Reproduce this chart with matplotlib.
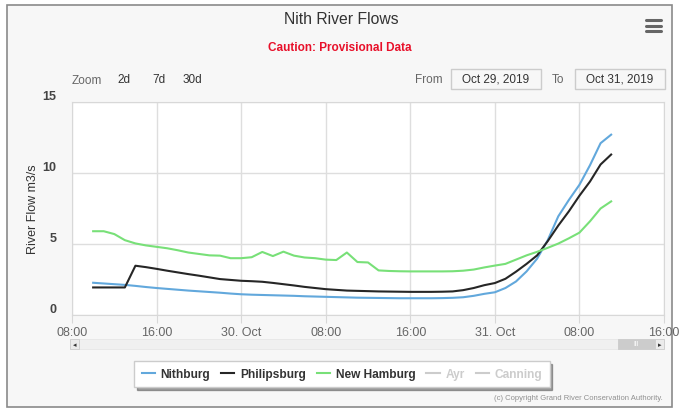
import pandas as pd
import matplotlib.pyplot as plt
from matplotlib.lines import Line2D
from matplotlib.patches import Rectangle

plt.rcParams['font.family'] = ['Liberation Sans Narrow', 'Liberation Sans', 'DejaVu Sans']

# hourly readings, Oct 29 10:00 -> Oct 31 11:00
times = pd.date_range("2019-10-29 10:00", periods=50, freq="h")

nithburg = [2.27, 2.22, 2.17, 2.12, 2.05, 1.97, 1.90, 1.84, 1.78, 1.72,
            1.67, 1.62, 1.57, 1.51, 1.46, 1.43, 1.41, 1.39, 1.37, 1.35,
            1.32, 1.30, 1.28, 1.26, 1.24, 1.22, 1.21, 1.20, 1.19, 1.18,
            1.18, 1.18, 1.18, 1.19, 1.21, 1.25, 1.35, 1.49, 1.60, 1.90,
            2.36, 3.07, 3.97, 5.27, 6.95, 8.10, 9.17, 10.55, 12.10, 12.70]

philipsburg = [1.94, 1.94, 1.94, 1.94, 3.47, 3.37, 3.25, 3.12, 3.00, 2.88,
               2.77, 2.65, 2.53, 2.47, 2.41, 2.38, 2.34, 2.26, 2.17, 2.08,
               1.98, 1.90, 1.82, 1.77, 1.72, 1.70, 1.68, 1.66, 1.65, 1.64,
               1.63, 1.63, 1.63, 1.64, 1.66, 1.75, 1.90, 2.10, 2.25, 2.55,
               3.05, 3.60, 4.20, 5.20, 6.30, 7.30, 8.40, 9.40, 10.60, 11.30]

new_hamburg = [5.90, 5.90, 5.70, 5.27, 5.04, 4.90, 4.80, 4.70, 4.56, 4.40,
               4.30, 4.20, 4.18, 4.00, 4.00, 4.07, 4.44, 4.15, 4.46, 4.18,
               4.05, 4.00, 3.90, 3.87, 4.40, 3.73, 3.70, 3.14, 3.10, 3.08,
               3.07, 3.07, 3.07, 3.07, 3.08, 3.12, 3.20, 3.35, 3.48, 3.60,
               3.90, 4.20, 4.45, 4.73, 5.03, 5.40, 5.80, 6.60, 7.50, 8.00]

series_names = ["Nithburg", "Philipsburg", "New Hamburg", "Ayr", "Canning"]
series_colors = ["#62a8dc", "#262626", "#78e078", "#cccccc", "#cccccc"]

tick_times = pd.date_range("2019-10-29 08:00", "2019-10-31 16:00", freq="8h")
tick_labels = ["08:00", "16:00", "30. Oct", "08:00", "16:00", "31. Oct", "08:00", "16:00"]
y_ticks = [0, 5, 10, 15]

W, H = 680, 414


def fx(px):
    return px / W


def fy(py):
    return 1 - py / H


def box(x0, y0, x1, y1, **kw):
    r = Rectangle((fx(x0), fy(y1)), fx(x1) - fx(x0), fy(y0) - fy(y1),
                  transform=fig.transFigure, **kw)
    fig.patches.append(r)
    return r


fig = plt.figure(figsize=(6.8, 4.14), dpi=100)
fig.patch.set_facecolor("white")
box(7, 6, 672, 408, facecolor="#f7f7f7", edgecolor="#8a8a8a", linewidth=1.2, zorder=-5)

ax = fig.add_axes([fx(72), fy(316), fx(664) - fx(72), fy(103) - fy(316)])
ax.set_facecolor("white")
ax.set_zorder(2)

for vals, name, col in zip([nithburg, philipsburg, new_hamburg], series_names, series_colors):
    ax.plot(times, vals, color=col, lw=1.5, label=name)

ax.set_xlim(tick_times[0], tick_times[-1])
ax.set_ylim(0, 15)
ax.set_xticks(tick_times)
ax.set_xticklabels(tick_labels)
ax.set_yticks(y_ticks)
ax.set_yticklabels([str(v) for v in y_ticks])
ax.grid(True, color="#dedede", lw=1)
for s in ax.spines.values():
    s.set_color("#d8d8d8")
ax.tick_params(axis="x", length=6, color="#d8d8d8", labelcolor="#666666", labelsize=9, pad=2)
ax.tick_params(axis="y", length=0, pad=11, labelsize=9)
for lab in ax.get_yticklabels():
    lab.set_fontweight("bold")
    lab.set_color("#444444")
    lab.set_va("bottom")
ax.set_ylabel("River Flow m3/s", fontsize=9, color="#333333", labelpad=3)

# titles
fig.text(fx(341), fy(20), "Nith River Flows", ha="center", va="center", fontsize=11.3, color="#333333")
fig.text(fx(340), fy(48), "Caution: Provisional Data", ha="center", va="center",
         fontsize=8.5, color="#e8102a", fontweight="bold")

# hamburger menu
for yy in [21, 26.5, 32]:
    fig.lines.append(Line2D([fx(646), fx(661)], [fy(yy), fy(yy)], transform=fig.transFigure,
                            color="#666666", lw=2.2, solid_capstyle="round"))

# range selector
fig.text(fx(72), fy(81), "Zoom", fontsize=8.5, color="#666666", va="center")
for lbl, xp in zip(["2d", "7d", "30d"], [117, 152, 183]):
    fig.text(fx(xp), fy(80), lbl, fontsize=8.5, color="#333333", va="center")
fig.text(fx(415), fy(80), "From", fontsize=8.5, color="#666666", va="center")
fig.text(fx(552), fy(80), "To", fontsize=8.5, color="#666666", va="center")
for x0, x1, txt in [(451, 541, "Oct 29, 2019"), (575, 665, "Oct 31, 2019")]:
    box(x0, 70, x1, 90, facecolor="#f7f7f7", edgecolor="#cccccc", lw=1)
    fig.text(fx((x0 + x1) / 2), fy(80), txt, fontsize=8.5, color="#333333", ha="center", va="center")

# scrollbar
box(70, 340, 664, 350, facecolor="#f0f0f0", edgecolor="#e6e6e6", lw=0.6)
box(70, 340, 79, 350, facecolor="#ebebeb", edgecolor="#cccccc", lw=0.6)
box(618, 340, 655, 350, facecolor="#cccccc", edgecolor="#cccccc", lw=0.6)
box(655, 340, 664, 350, facecolor="#ebebeb", edgecolor="#cccccc", lw=0.6)
fig.text(fx(74.5), fy(345), "\u25c2", fontsize=5, color="#333333", ha="center", va="center", family="DejaVu Sans")
fig.text(fx(659.5), fy(345), "\u25b8", fontsize=5, color="#333333", ha="center", va="center", family="DejaVu Sans")
fig.text(fx(636.5), fy(345), "III", fontsize=5, color="#ffffff", ha="center", va="center")

# legend (Ayr and Canning are hidden series)
handles = [Line2D([], [], color=c, lw=1.5) for c in series_colors]
leg = fig.legend(handles, series_names, loc="center", bbox_to_anchor=(fx(342), fy(375)),
                 ncol=5, frameon=True, fancybox=False, shadow=True, handlelength=1.1,
                 handletextpad=0.5, columnspacing=0.9, borderpad=0.6,
                 prop={"weight": "bold", "size": 8.6})
leg.get_frame().set_edgecolor("#cccccc")
leg.get_frame().set_facecolor("white")
for t, c in zip(leg.get_texts(), ["#333333", "#333333", "#333333", "#cccccc", "#cccccc"]):
    t.set_color(c)

fig.text(fx(663), fy(399), "(c) Copyright Grand River Conservation Authority.",
         fontsize=5.5, color="#909090", ha="right", va="center")

fig.savefig("out.png", dpi=100)
